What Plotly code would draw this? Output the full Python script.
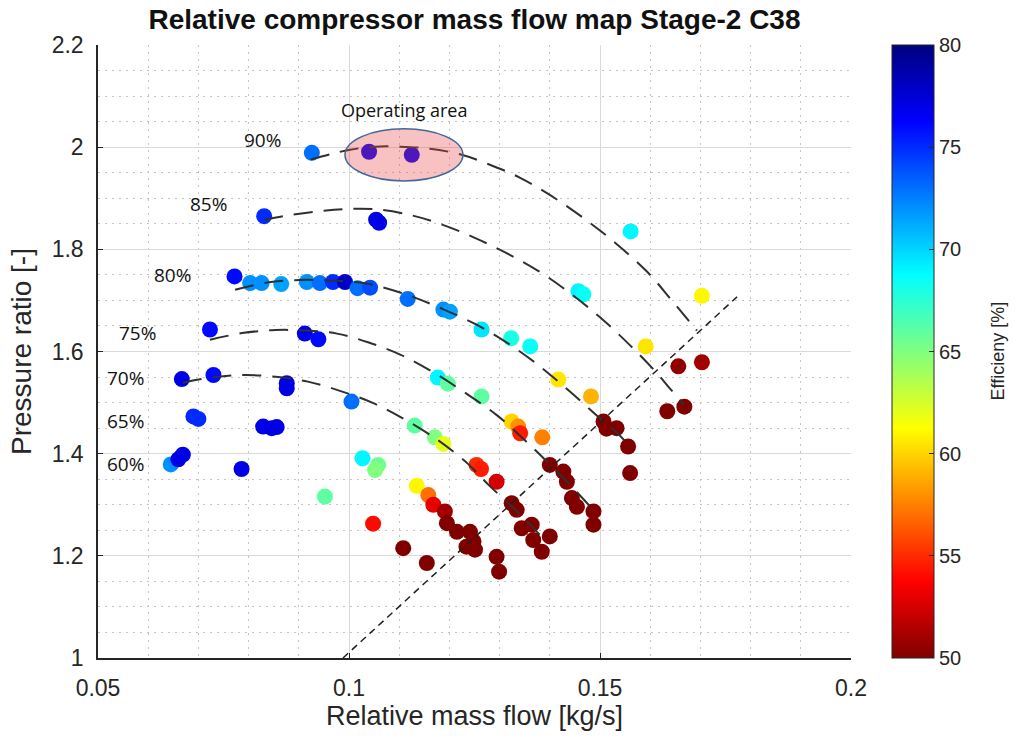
import plotly.graph_objects as go

# Measured operating points of the stage-2 compressor
flow = [
    0.0926, 0.1040, 0.1125,                      # 90 %
    0.0831, 0.1054, 0.1060, 0.1561,              # 85 %
    0.0772, 0.0803, 0.0826, 0.0865, 0.0916, 0.0942, 0.0968, 0.0992,
    0.1017, 0.1042, 0.1117, 0.1188, 0.1201, 0.1264, 0.1323, 0.1361,
    0.1417, 0.1482, 0.1457, 0.1467, 0.1703, 0.1591, 0.1656, 0.1703,
    0.1634, 0.1668,                              # 80 %
    0.0723, 0.0912, 0.0939, 0.1177, 0.1197, 0.1264, 0.1324, 0.1337,
    0.1341, 0.1385, 0.1400, 0.1427, 0.1434, 0.1444, 0.1454, 0.1487,
    0.1487, 0.1507, 0.1513, 0.1533, 0.1556, 0.1560,  # 75 %
    0.0667, 0.0730, 0.0876, 0.0876, 0.1005, 0.1131, 0.1171, 0.1188,
    0.1254, 0.1263, 0.1294, 0.1324, 0.1334, 0.1344, 0.1364, 0.1367,
    0.1384, 0.1400,                              # 70 %
    0.0690, 0.0700, 0.0829, 0.0846, 0.0856, 0.1027, 0.1058, 0.1052,
    0.1135, 0.1158, 0.1168, 0.1191, 0.1195, 0.1215, 0.1241, 0.1248,
    0.1251, 0.1234, 0.1108, 0.1155, 0.1294, 0.1299, 0.1048,  # 65 %
    0.0645, 0.0660, 0.0669, 0.0786, 0.0952,      # 60 %
]
pressure_ratio = [
    1.989, 1.991, 1.985,
    1.865, 1.858, 1.852, 1.835,
    1.747, 1.734, 1.734, 1.732, 1.736, 1.734, 1.736, 1.736,
    1.724, 1.725, 1.703, 1.682, 1.678, 1.643, 1.626, 1.610,
    1.545, 1.512, 1.718, 1.712, 1.709, 1.610, 1.571, 1.579,
    1.483, 1.492,
    1.643, 1.635, 1.624, 1.549, 1.537, 1.512, 1.463, 1.453,
    1.440, 1.432, 1.378, 1.365, 1.345, 1.313, 1.296, 1.287,
    1.261, 1.463, 1.449, 1.450, 1.414, 1.362,
    1.546, 1.554, 1.538, 1.528, 1.502, 1.455, 1.432, 1.419,
    1.378, 1.370, 1.345, 1.303, 1.290, 1.254, 1.261, 1.231,
    1.208, 1.238,
    1.473, 1.468, 1.453, 1.450, 1.452, 1.391, 1.378, 1.368,
    1.337, 1.319, 1.300, 1.287, 1.264, 1.247, 1.247, 1.228,
    1.212, 1.218, 1.215, 1.186, 1.198, 1.169, 1.263,
    1.379, 1.389, 1.398, 1.370, 1.316,
]
efficiency = [
    73, 76.5, 76.5,
    75, 77, 77, 69,
    76, 72, 72, 71.5, 72, 73, 75, 78,
    73, 74, 73, 72, 71.5, 69.5, 68, 68.5,
    60.5, 59, 69, 68.5, 61, 60.5, 50.5, 51,
    50, 50,
    76, 77, 76, 69, 66, 66, 60, 58,
    54.5, 57.5, 50, 50, 50, 50, 50, 50,
    50, 50, 50, 50, 50, 50,
    77, 76, 77, 77, 73, 66, 65, 62,
    55, 54.5, 52.5, 50, 50, 50, 50, 50,
    50, 50,
    75, 75, 77, 77, 77, 69, 65.5, 65,
    61, 57, 53, 51, 50, 50, 50, 50,
    50, 50, 50, 50, 50, 50, 54,
    72, 77, 77, 77, 66,
]

# Constant-speed lines (relative mass flow, pressure ratio)
speed90_flow = [0.0924, 0.0962, 0.1002, 0.1052, 0.1102, 0.1161, 0.1221, 0.1277,
                0.1341, 0.1404, 0.1466, 0.1530, 0.1594, 0.1643, 0.1693]
speed90_pr = [1.976, 1.986, 1.995, 2.001, 2.001, 1.997, 1.986, 1.967,
              1.940, 1.904, 1.862, 1.813, 1.756, 1.700, 1.641]
speed85_flow = [0.0831, 0.0869, 0.0936, 0.0996, 0.1058, 0.1127, 0.1181, 0.1245,
                0.1311, 0.1375, 0.1434, 0.1500, 0.1560, 0.1612, 0.1639, 0.1667]
speed85_pr = [1.858, 1.865, 1.874, 1.879, 1.878, 1.866, 1.850, 1.825,
              1.794, 1.759, 1.719, 1.667, 1.612, 1.559, 1.528, 1.496]
speed80_flow = [0.0773, 0.0837, 0.0902, 0.0962, 0.1022, 0.1062, 0.1127, 0.1187,
                0.1255, 0.1315, 0.1375, 0.1436, 0.1506, 0.1534, 0.1560]
speed80_pr = [1.721, 1.735, 1.740, 1.739, 1.735, 1.727, 1.707, 1.683,
              1.652, 1.617, 1.575, 1.525, 1.464, 1.441, 1.413]
speed75_flow = [0.0723, 0.0787, 0.0853, 0.0916, 0.0976, 0.1038, 0.1102, 0.1165,
                0.1227, 0.1295, 0.1355, 0.1402, 0.1446, 0.1490]
speed75_pr = [1.623, 1.636, 1.642, 1.641, 1.635, 1.618, 1.594, 1.561,
              1.522, 1.475, 1.422, 1.377, 1.333, 1.286]
speed70_flow = [0.0669, 0.0733, 0.0793, 0.0859, 0.0918, 0.0982, 0.1046, 0.1102,
                0.1175, 0.1237, 0.1281, 0.1321, 0.1355, 0.1386]
speed70_pr = [1.539, 1.550, 1.554, 1.550, 1.541, 1.523, 1.500, 1.472,
              1.428, 1.380, 1.336, 1.300, 1.267, 1.235]
speed_lines = [
    (speed90_flow, speed90_pr), (speed85_flow, speed85_pr),
    (speed80_flow, speed80_pr), (speed75_flow, speed75_pr),
    (speed70_flow, speed70_pr),
]

# Limit line across the map
limit_flow = [0.0988, 0.1773]
limit_pr = [1.0, 1.707]

# Speed labels and their anchor points
speed_labels = ["90%", "85%", "80%", "75%", "70%", "65%", "60%"]
speed_label_flow = [0.0827, 0.0721, 0.0649, 0.0578, 0.0555, 0.0555, 0.0555]
speed_label_pr = [2.015, 1.889, 1.750, 1.637, 1.548, 1.464, 1.380]

# Operating area (ellipse bounds)
area_flow = [0.0992, 0.1227]
area_pr = [1.934, 2.036]

# Reversed MATLAB-style jet colour map (50 = dark red, 80 = dark blue)
jet_r = [
    [0.0, "rgb(128,0,0)"], [0.125, "rgb(255,0,0)"], [0.375, "rgb(255,255,0)"],
    [0.625, "rgb(0,255,255)"], [0.875, "rgb(0,0,255)"], [1.0, "rgb(0,0,128)"],
]

TXT = "#262626"
SANS = "Liberation Sans, Arial, sans-serif"

fig = go.Figure()

fig.add_trace(go.Scatter(
    x=flow, y=pressure_ratio, mode="markers",
    marker=dict(
        size=16, color=efficiency, colorscale=jet_r, cmin=50, cmax=80,
        line=dict(width=0),
        colorbar=dict(
            x=1.0544, xanchor="left", xpad=0, y=0.5, yanchor="middle", ypad=0,
            len=1, lenmode="fraction", thickness=42, thicknessmode="pixels",
            outlinecolor=TXT, outlinewidth=1,
            tickvals=[50, 55, 60, 65, 70, 75, 80], ticks="inside", ticklen=5,
            tickcolor=TXT, tickfont=dict(family=SANS, size=20, color=TXT),
        ),
    ),
    hoverinfo="skip",
))

for fx, fy in speed_lines:
    fig.add_trace(go.Scatter(
        x=fx, y=fy, mode="lines",
        line=dict(color="#303030", width=2, dash="19px,11px", shape="spline", smoothing=1.0),
        hoverinfo="skip",
    ))

fig.add_trace(go.Scatter(
    x=limit_flow, y=limit_pr, mode="lines",
    line=dict(color="#202020", width=1.5, dash="7px,5px"),
    hoverinfo="skip",
))

for label, lx, ly in zip(speed_labels, speed_label_flow, speed_label_pr):
    fig.add_annotation(x=lx, y=ly, text=label, showarrow=False,
                       xanchor="center", yanchor="middle",
                       font=dict(family="Open Sans, sans-serif", size=19, color="#111111"))

fig.add_shape(type="circle", xref="x", yref="y",
              x0=area_flow[0], x1=area_flow[1], y0=area_pr[0], y1=area_pr[1],
              fillcolor="rgba(238,70,70,0.33)", line=dict(color="#41679e", width=1.5),
              layer="above")
fig.add_annotation(x=sum(area_flow) / 2, y=2.073, text="Operating area", showarrow=False,
                   xanchor="center", yanchor="middle",
                   font=dict(family="Open Sans, sans-serif", size=18, color="#111111"))

fig.add_annotation(xref="paper", yref="paper", x=(997 - 98) / 753, y=0.5,
                   text="Efficieny [%]", textangle=-90, showarrow=False,
                   xanchor="center", yanchor="middle",
                   font=dict(family=SANS, size=18, color=TXT))

axis_common = dict(
    showline=True, linecolor=TXT, linewidth=1.5, mirror=False,
    ticks="inside", ticklen=5, tickcolor=TXT, tickwidth=1,
    showgrid=True, gridcolor="#d9d9d9", gridwidth=1, zeroline=False,
    tickfont=dict(family=SANS, size=23, color=TXT),
)

fig.update_xaxes(
    range=[0.05, 0.2], dtick=0.05, tick0=0.05, **axis_common,
    minor=dict(dtick=0.01, showgrid=True, gridcolor="#c4c4c4", griddash="2px,5px", gridwidth=1),
    title=dict(text="Relative mass flow [kg/s]", font=dict(family=SANS, size=27, color=TXT), standoff=5),
    ticklabelstandoff=9,
)
fig.update_yaxes(
    range=[1.0, 2.2], dtick=0.2, tick0=1.0, **axis_common,
    minor=dict(dtick=0.05, showgrid=True, gridcolor="#c4c4c4", griddash="2px,5px", gridwidth=1),
    title=dict(text="Pressure ratio [-]", font=dict(family=SANS, size=28, color=TXT), standoff=12),
    ticklabelstandoff=8,
)

fig.update_layout(
    width=1015, height=740,
    margin=dict(l=98, r=164, t=45, b=82, autoexpand=False),
    paper_bgcolor="white", plot_bgcolor="white",
    showlegend=False,
    title=dict(text="<b>Relative compressor mass flow map Stage-2 C38</b>",
               x=0.5, xref="paper", xanchor="center",
               y=1 - 19 / 740, yref="container", yanchor="middle",
               font=dict(family=SANS, size=28, color="#111111")),
)

fig.write_html("out.html")
